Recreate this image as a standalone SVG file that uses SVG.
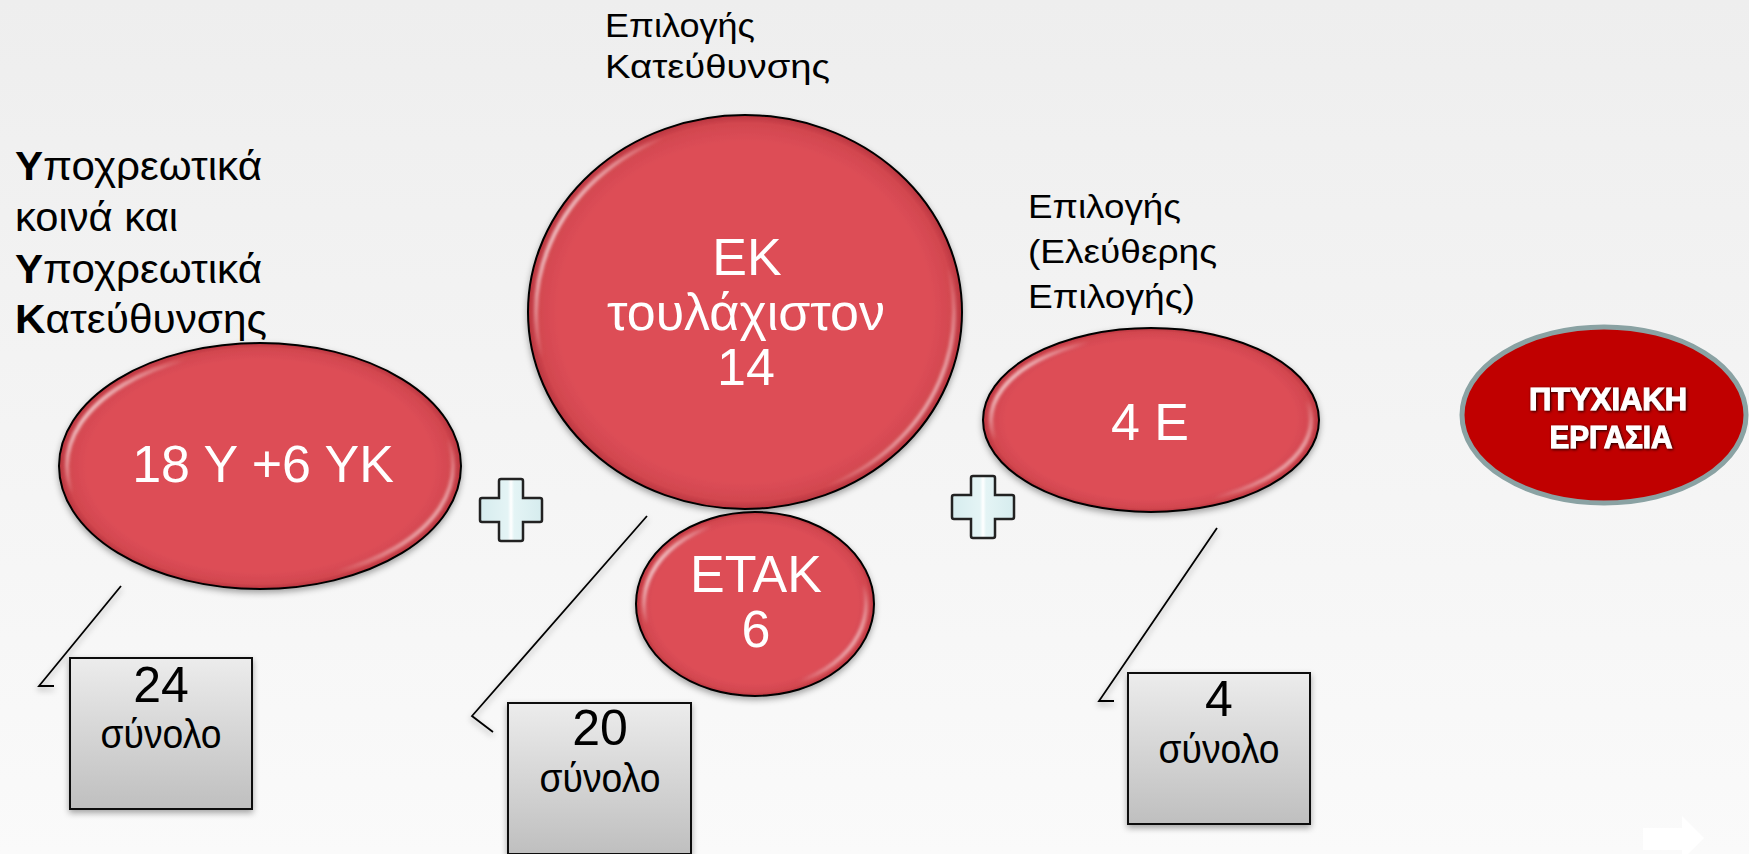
<svg xmlns="http://www.w3.org/2000/svg" width="1749" height="854" viewBox="0 0 1749 854">
  <defs>
    <linearGradient id="bg" x1="0" y1="0" x2="0" y2="1">
      <stop offset="0" stop-color="#eeeeee"/>
      <stop offset="1" stop-color="#fafafa"/>
    </linearGradient>
    <radialGradient id="redfill" cx="0.5" cy="0.5" r="0.5">
      <stop offset="0" stop-color="#dd4e57"/>
      <stop offset="0.86" stop-color="#dd4e57"/>
      <stop offset="0.96" stop-color="#d2464f"/>
      <stop offset="1" stop-color="#b8353e"/>
    </radialGradient>
    <linearGradient id="hl" x1="0" y1="0.25" x2="1" y2="0.75">
      <stop offset="0" stop-color="#ffffff" stop-opacity="0.95"/>
      <stop offset="0.16" stop-color="#ffffff" stop-opacity="0"/>
      <stop offset="0.84" stop-color="#ffffff" stop-opacity="0"/>
      <stop offset="1" stop-color="#ffffff" stop-opacity="0.75"/>
    </linearGradient>
    <linearGradient id="boxfill" x1="0" y1="0" x2="0" y2="1">
      <stop offset="0" stop-color="#ececec"/>
      <stop offset="1" stop-color="#bfbfbf"/>
    </linearGradient>
    <linearGradient id="plusfill" x1="0" y1="0" x2="1" y2="0">
      <stop offset="0" stop-color="#d6ecee"/>
      <stop offset="0.45" stop-color="#e4f4f5"/>
      <stop offset="0.5" stop-color="#ffffff"/>
      <stop offset="0.55" stop-color="#e4f4f5"/>
      <stop offset="1" stop-color="#d6ecee"/>
    </linearGradient>
    <filter id="shadow" x="-10%" y="-10%" width="120%" height="130%">
      <feDropShadow dx="0" dy="3" stdDeviation="3" flood-color="#000" flood-opacity="0.35"/>
    </filter>
    <filter id="blur" x="-10%" y="-10%" width="120%" height="120%">
      <feGaussianBlur stdDeviation="1.6"/>
    </filter>
    <filter id="txtshadow" x="-10%" y="-30%" width="120%" height="160%">
      <feDropShadow dx="1" dy="1" stdDeviation="1.5" flood-color="#000" flood-opacity="0.9"/>
    </filter>
    <path id="plus" d="M-10,-31 h20 q2,0 2,2 v17 h17 q2,0 2,2 v20 q0,2 -2,2 h-17 v17 q0,2 -2,2 h-20 q-2,0 -2,-2 v-17 h-17 q-2,0 -2,-2 v-20 q0,-2 2,-2 h17 v-17 q0,-2 2,-2 z"/>
  </defs>
  <style>
    .lbl { font-family: "Liberation Sans", Arial, sans-serif; fill: #000; }
    .in { font-family: "Liberation Sans", Arial, sans-serif; fill: #fff; text-anchor: middle; font-size: 52px; }
    .num { font-family: "Liberation Sans", Arial, sans-serif; fill: #000; text-anchor: middle; }
    .red { fill: url(#redfill); stroke: #000; stroke-width: 2; }
    .gloss { fill: none; stroke: url(#hl); stroke-width: 4; }
    .box { fill: url(#boxfill); stroke: #111; stroke-width: 2; }
    .conn { fill: none; stroke: #000; stroke-width: 1.8; }
    .plus { fill: url(#plusfill); stroke: #222; stroke-width: 2.5; }
  </style>

  <rect x="0" y="0" width="1749" height="854" fill="url(#bg)"/>

  <!-- connectors -->
  <g id="connectors" filter="url(#shadow)">
    <polyline class="conn" points="121,586 39,686 54,686"/>
    <polyline class="conn" points="647,516 472,716 493,732"/>
    <polyline class="conn" points="1217,528 1099,701 1114,701"/>
  </g>

  <!-- labels -->
  <g id="label-left">
    <text class="lbl" font-size="41" x="15" y="180" textLength="247" lengthAdjust="spacingAndGlyphs"><tspan font-weight="bold">Υ</tspan>ποχρεωτικά</text>
    <text class="lbl" font-size="41" x="15" y="231" textLength="163" lengthAdjust="spacingAndGlyphs">κοινά και</text>
    <text class="lbl" font-size="41" x="15" y="283" textLength="247" lengthAdjust="spacingAndGlyphs"><tspan font-weight="bold">Υ</tspan>ποχρεωτικά</text>
    <text class="lbl" font-size="41" x="15" y="333" textLength="252" lengthAdjust="spacingAndGlyphs"><tspan font-weight="bold">Κ</tspan>ατεύθυνσης</text>
  </g>
  <g id="label-top">
    <text class="lbl" font-size="34" x="605" y="37" textLength="150" lengthAdjust="spacingAndGlyphs">Επιλογής</text>
    <text class="lbl" font-size="34" x="605" y="78" textLength="225" lengthAdjust="spacingAndGlyphs">Κατεύθυνσης</text>
  </g>
  <g id="label-right">
    <text class="lbl" font-size="34" x="1028" y="218" textLength="153" lengthAdjust="spacingAndGlyphs">Επιλογής</text>
    <text class="lbl" font-size="34" x="1028" y="263" textLength="189" lengthAdjust="spacingAndGlyphs">(Ελεύθερης</text>
    <text class="lbl" font-size="34" x="1028" y="308" textLength="167" lengthAdjust="spacingAndGlyphs">Επιλογής)</text>
  </g>

  <!-- node: 18 Y + 6 YK -->
  <g id="node-yk">
    <ellipse class="red" cx="260" cy="466" rx="201" ry="123" filter="url(#shadow)"/>
    <ellipse class="gloss" cx="260" cy="466" rx="193" ry="115" filter="url(#blur)"/>
    <text class="in" x="263" y="482">18 Υ +6 ΥΚ</text>
  </g>

  <!-- node: EK -->
  <g id="node-ek">
    <ellipse class="red" cx="745" cy="312" rx="217" ry="197" filter="url(#shadow)"/>
    <ellipse class="gloss" cx="745" cy="312" rx="209" ry="189" filter="url(#blur)"/>
    <text class="in" x="747" y="275">ΕΚ</text>
    <text class="in" x="746" y="330">τουλάχιστον</text>
    <text class="in" x="746" y="385">14</text>
  </g>

  <!-- node: ETAK -->
  <g id="node-etak">
    <ellipse class="red" cx="755" cy="604" rx="119" ry="92" filter="url(#shadow)"/>
    <ellipse class="gloss" cx="755" cy="604" rx="111" ry="84" filter="url(#blur)"/>
    <text class="in" x="756" y="592">ΕΤΑΚ</text>
    <text class="in" x="756" y="647">6</text>
  </g>

  <!-- node: 4 E -->
  <g id="node-e">
    <ellipse class="red" cx="1151" cy="420" rx="168" ry="92" filter="url(#shadow)"/>
    <ellipse class="gloss" cx="1151" cy="420" rx="160" ry="84" filter="url(#blur)"/>
    <text class="in" x="1150" y="440">4 Ε</text>
  </g>

  <!-- node: thesis -->
  <g id="node-thesis">
    <ellipse cx="1604" cy="415" rx="142" ry="88" fill="#c00000" stroke="#8aa2a3" stroke-width="5"/>
    <g filter="url(#txtshadow)" font-family="'Liberation Sans', Arial, sans-serif" font-weight="bold" font-size="32" fill="#fff" stroke="#fff" stroke-width="1" text-anchor="middle">
      <text x="1608" y="410" textLength="158" lengthAdjust="spacingAndGlyphs">ΠΤΥΧΙΑΚΗ</text>
      <text x="1611" y="448" textLength="123" lengthAdjust="spacingAndGlyphs">ΕΡΓΑΣΙΑ</text>
    </g>
  </g>

  <!-- plus signs -->
  <g id="plus-1"><use href="#plus" class="plus" transform="translate(511,510)"/></g>
  <g id="plus-2"><use href="#plus" class="plus" transform="translate(983,507)"/></g>

  <!-- total boxes -->
  <g id="box-24">
    <rect class="box" x="70" y="658" width="182" height="151" filter="url(#shadow)"/>
    <text class="num" font-size="50" x="161" y="702">24</text>
    <text class="num" font-size="40" x="161" y="748" textLength="121" lengthAdjust="spacingAndGlyphs">σύνολο</text>
  </g>
  <g id="box-20">
    <rect class="box" x="508" y="703" width="183" height="151" filter="url(#shadow)"/>
    <text class="num" font-size="50" x="600" y="745">20</text>
    <text class="num" font-size="40" x="600" y="792" textLength="121" lengthAdjust="spacingAndGlyphs">σύνολο</text>
  </g>
  <g id="box-4">
    <rect class="box" x="1128" y="673" width="182" height="151" filter="url(#shadow)"/>
    <text class="num" font-size="50" x="1219" y="716">4</text>
    <text class="num" font-size="40" x="1219" y="763" textLength="121" lengthAdjust="spacingAndGlyphs">σύνολο</text>
  </g>

  <!-- faint next arrow -->
  <path d="M1643,828 H1682 V816 L1704,838 L1682,860 V850 H1643 Z" fill="#ffffff"/>
</svg>
